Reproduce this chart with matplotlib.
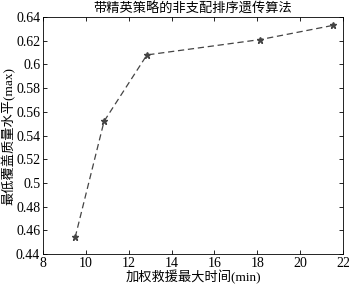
import numpy as np
import matplotlib
matplotlib.use('Agg')
import matplotlib.pyplot as plt

plt.rcParams['font.family'] = ['Liberation Serif', 'Noto Sans CJK SC']
plt.rcParams['axes.unicode_minus'] = False

# data
max_time = [9.5, 10.85, 12.85, 18.15, 21.55]
coverage = [0.454, 0.552, 0.608, 0.621, 0.633]

fig = plt.figure(figsize=(3.49, 2.84), dpi=100)
ax = fig.add_axes([0.1232, 0.1056, 0.8596, 0.8345])

ax.plot(max_time, coverage, color='#444444', linestyle='--', linewidth=0.9,
        dashes=(5, 3), marker='*', markersize=5, markerfacecolor='#444444',
        markeredgecolor='#444444')

ax.set_xlim(8, 22)
ax.set_ylim(0.44, 0.64)
ax.set_xticks(np.arange(8, 23, 2))
ax.set_yticks(np.arange(0.44, 0.641, 0.02))
ax.set_yticklabels(['0.44', '0.46', '0.48', '0.5', '0.52', '0.54', '0.56',
                    '0.58', '0.6', '0.62', '0.64'])
ax.tick_params(direction='in', top=True, right=True, labelsize=10, length=3,
               width=0.6, pad=2)
for s in ax.spines.values():
    s.set_linewidth(0.6)

ax.set_title('带精英策略的非支配排序遗传算法', fontsize=9.5, pad=3)
ax.set_xlabel('加权救援最大时间(min)', fontsize=9.5, labelpad=0)
ax.set_ylabel('最低覆盖质量水平(max)', fontsize=9.5, labelpad=0)

fig.savefig('out.png', dpi=100)
